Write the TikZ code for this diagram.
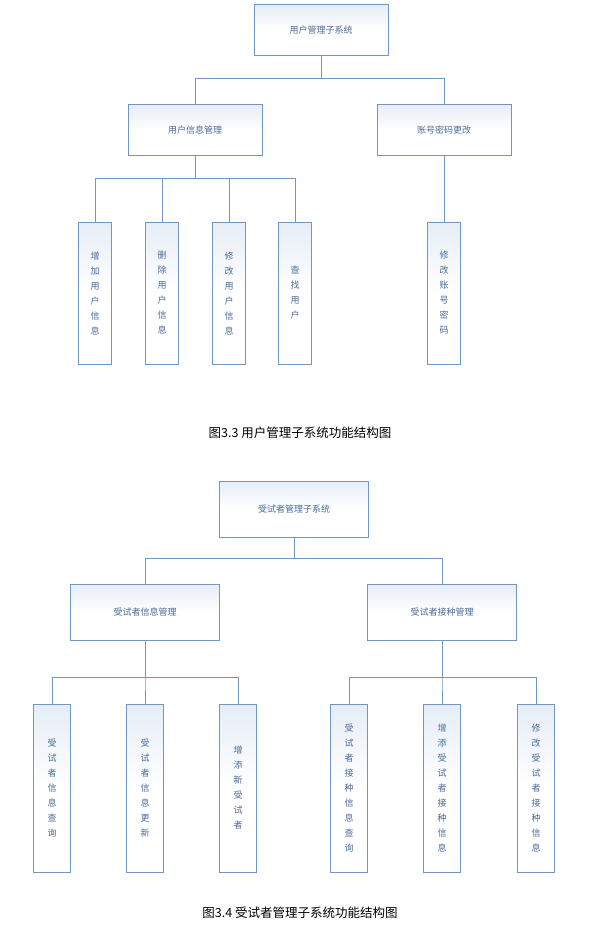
\documentclass[tikz,border=0pt]{standalone}
\usepackage{fontspec}
\newfontfamily\cjk{Noto Sans CJK SC}
\usetikzlibrary{positioning}
\definecolor{boxline}{HTML}{7097C0}
\definecolor{boxtext}{HTML}{4A6B98}
\definecolor{boxfill}{HTML}{E6EDF6}
\tikzset{
	box/.style={draw=boxline, line width=0.9pt, top color=boxfill, bottom color=white, middle color=white,
		text=boxtext, font=\cjk\fontsize{9}{10}\selectfont, inner sep=0pt},
	wide/.style={box, minimum width=134pt, minimum height=51pt},
	wider/.style={box, minimum width=149pt, minimum height=56pt},
	leaf/.style={box, minimum width=33pt, minimum height=142pt, align=center,
		font=\cjk\fontsize{9}{15}\selectfont},
	tallleaf/.style={leaf, minimum width=37pt, minimum height=168pt},
	wire/.style={draw=boxline, line width=0.9pt},
	caption/.style={font=\cjk\fontsize{12.5}{14}\selectfont}
}
\begin{document}
\begin{tikzpicture}[x=1pt, y=-1pt]
	\useasboundingbox[fill=white] (0,0) rectangle (608,929);
	% first tree
	\node[wide] (usr) at (321,30) {用户管理子系统};
	\node[wide] (info) at (195,130) {用户信息管理};
	\node[wide] (pwd) at (444,130) {账号密码更改};
	\node[leaf] (add) at (95,293) {增\\加\\用\\户\\信\\息};
	\node[leaf] (del) at (162,293) {删\\除\\用\\户\\信\\息};
	\node[leaf] (mod) at (229,293) {修\\改\\用\\户\\信\\息};
	\node[leaf] (find) at (295,293) {查\\找\\用\\户};
	\node[leaf] (chg) at (444,293) {修\\改\\账\\号\\密\\码};
	\path[wire] (usr.south) |- (info.north |- 0,78) -- (info.north);
	\path[wire] (usr.south) |- (pwd.north |- 0,78) -- (pwd.north);
	\foreach \n in {add, del, mod, find} {
		\path[wire] (info.south) |- (\n.north |- 0,178) -- (\n.north);
	}
	\path[wire] (pwd.south) -- (chg.north);
	\node[caption] (cap1) at (300,433) {图3.3 用户管理子系统功能结构图};
	% second tree
	\node[wider] (sub) at (294,509) {受试者管理子系统};
	\node[wider] (sinfo) at (145,612) {受试者信息管理};
	\node[wider] (vacc) at (442,612) {受试者接种管理};
	\node[tallleaf] (qry) at (52,788) {受\\试\\者\\信\\息\\查\\询};
	\node[tallleaf] (upd) at (145,788) {受\\试\\者\\信\\息\\更\\新};
	\node[tallleaf] (new) at (238,788) {增\\添\\新\\受\\试\\者};
	\node[tallleaf] (vqry) at (349,788) {受\\试\\者\\接\\种\\信\\息\\查\\询};
	\node[tallleaf] (vadd) at (442,788) {增\\添\\受\\试\\者\\接\\种\\信\\息};
	\node[tallleaf] (vmod) at (536,788) {修\\改\\受\\试\\者\\接\\种\\信\\息};
	\path[wire] (sub.south) |- (sinfo.north |- 0,558) -- (sinfo.north);
	\path[wire] (sub.south) |- (vacc.north |- 0,558) -- (vacc.north);
	\foreach \n in {qry, upd, new} {
		\path[wire] (sinfo.south) |- (\n.north |- 0,677) -- (\n.north);
	}
	\foreach \n in {vqry, vadd, vmod} {
		\path[wire] (vacc.south) |- (\n.north |- 0,677) -- (\n.north);
	}
	\node[caption] (cap2) at (300,913) {图3.4 受试者管理子系统功能结构图};
\end{tikzpicture}
\end{document}
